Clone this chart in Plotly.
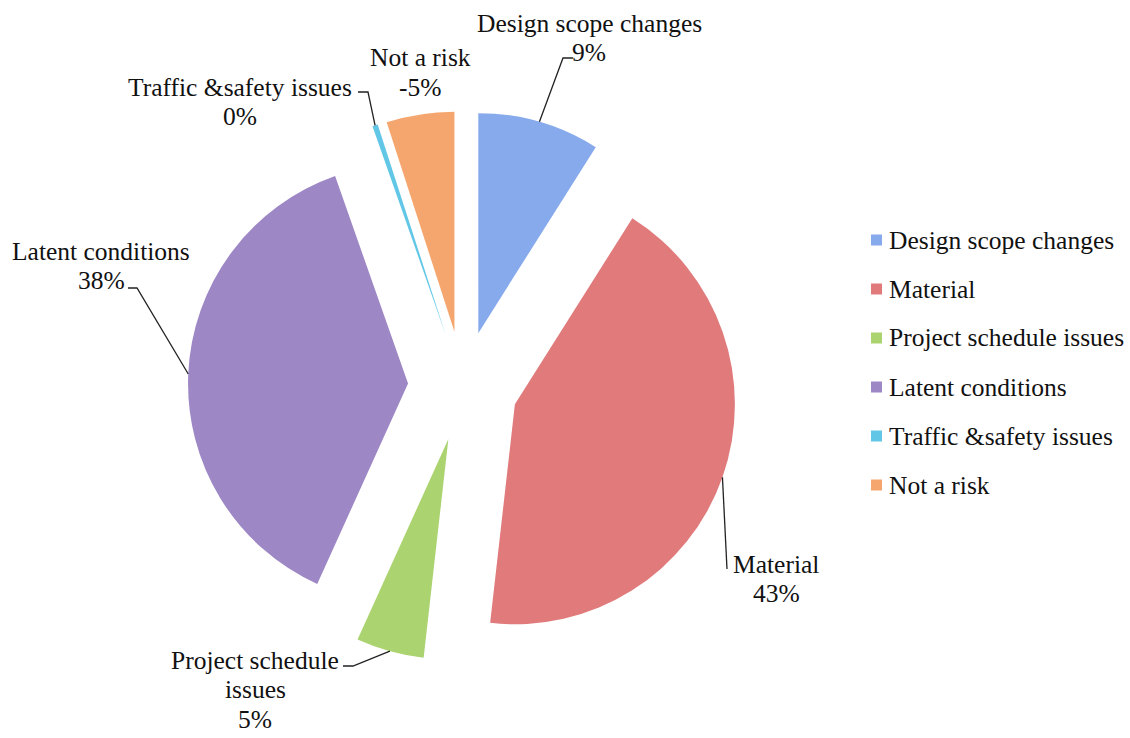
import math
import plotly.graph_objects as go

# Risk categories and their shares (percent)
categories = [
    "Design scope changes",
    "Material",
    "Project schedule issues",
    "Latent conditions",
    "Traffic &safety issues",
    "Not a risk",
]
shares = [9, 43, 5, 38, 0.4, 5]
share_labels = ["9%", "43%", "5%", "38%", "0%", "-5%"]

colors = ["#86aaec", "#e07a7b", "#abd36f", "#9d87c5", "#62c7e6", "#f5a66e"]

W, H = 1130, 738
CX, CY = 463, 386      # pie centre in pixels
R = 220                # pie radius in pixels
PULL = 0.25            # every slice is exploded by the same fraction
FONT = "Liberation Serif"
FS = 25.5
LINE_H = 29.5          # spacing between lines of a data label


def px(x, y):
    """pixel -> paper coordinates"""
    return x / W, 1 - y / H


half = R * (1 + PULL)
dom_x = [(CX - half) / W, (CX + half) / W]
dom_y = [1 - (CY + half) / H, 1 - (CY - half) / H]

fig = go.Figure(
    go.Pie(
        labels=categories,
        values=shares,
        sort=False,
        direction="clockwise",
        rotation=0,
        pull=[PULL] * len(shares),
        marker=dict(colors=colors, line=dict(width=0)),
        textinfo="none",
        hoverinfo="label+percent",
        showlegend=False,
        domain=dict(x=dom_x, y=dom_y),
    )
)

# mid-angle of each slice on the outer arc (clockwise from 12 o'clock)
total = sum(shares)
arc_points = []
cum = 0.0
for v in shares:
    mid = math.radians(360 * (cum + v / 2) / total)
    dx, dy = math.sin(mid), -math.cos(mid)
    ox, oy = CX + PULL * R * dx, CY + PULL * R * dy
    arc_points.append((ox + R * dx, oy + R * dy))
    cum += v

# label placement: centre of first text line and leader route (elbow, end) in pixels
label_layout = [
    dict(lines=["Design scope changes"], top=(589, 23), route=[(563, 58), (573, 58)]),
    dict(lines=["Material"], top=(776, 564), route=[(727, 569)]),
    dict(lines=["Project schedule", "issues"], top=(255, 660), route=[(353, 666), (343, 666)]),
    dict(lines=["Latent conditions"], top=(101, 251), route=[(137, 288), (128, 288)]),
    dict(lines=["Traffic &safety issues"], top=(240, 87), route=[(368, 92), (358, 92)]),
    dict(lines=["Not a risk"], top=(420, 58), route=[]),
]

shapes = []
annotations = []
for i, lab in enumerate(label_layout):
    x0p, y0p = lab["top"]
    for k, line in enumerate(lab["lines"] + [share_labels[i]]):
        x, y = px(x0p, y0p + k * LINE_H)
        annotations.append(dict(
            x=x, y=y, xref="paper", yref="paper", text=line, showarrow=False,
            xanchor="center", yanchor="middle", align="center",
            font=dict(family=FONT, size=FS, color="#111111"),
        ))
    if lab["route"]:
        pts = [arc_points[i]] + lab["route"]
        path = "M " + " L ".join(
            "{:.5f},{:.5f}".format(*px(*p)) for p in pts
        )
        shapes.append(dict(type="path", xref="paper", yref="paper", path=path,
                           line=dict(color="#222222", width=1.3)))

# legend on the right
LEG_X, LEG_Y0, LEG_DY, SQ = 871, 240, 49, 11
for i, name in enumerate(categories):
    yc = LEG_Y0 + i * LEG_DY
    x0, y0 = px(LEG_X, yc - SQ / 2)
    x1, y1 = px(LEG_X + SQ, yc + SQ / 2)
    shapes.append(dict(type="rect", xref="paper", yref="paper",
                       x0=x0, x1=x1, y0=y1, y1=y0,
                       fillcolor=colors[i], line=dict(width=0)))
    tx, ty = px(LEG_X + SQ + 5, yc)
    annotations.append(dict(
        x=tx, y=ty, xref="paper", yref="paper", text=name, showarrow=False,
        xanchor="left", yanchor="middle",
        font=dict(family=FONT, size=FS, color="#111111"),
    ))

fig.update_layout(
    width=W, height=H,
    margin=dict(l=0, r=0, t=0, b=0),
    paper_bgcolor="white",
    plot_bgcolor="white",
    font=dict(family=FONT),
    shapes=shapes,
    annotations=annotations,
)

fig.write_html("out.html")
